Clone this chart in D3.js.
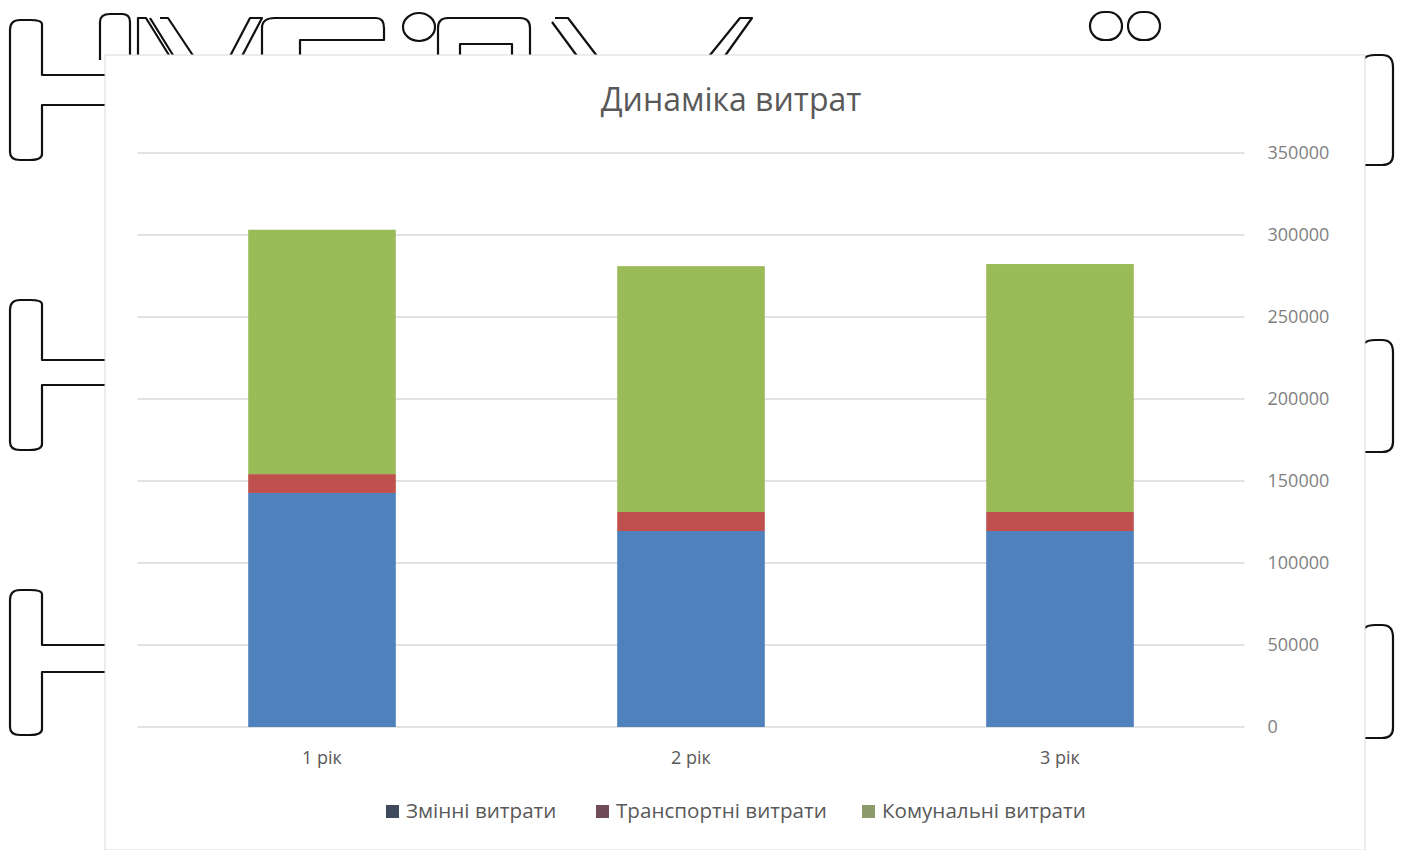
<!DOCTYPE html>
<html>
<head>
<meta charset="utf-8">
<script src="https://cdn.jsdelivr.net/npm/d3@7"></script>
<style>
  body { margin: 0; background: #fff; }
  svg { display: block; }
</style>
</head>
<body>
<div id="chart"></div>
<script>
// data
var years = ["1 рік", "2 рік", "3 рік"];
var seriesNames = ["Змінні витрати", "Транспортні витрати", "Комунальні витрати"];
var zminni = [142700, 119500, 119500];
var transport = [11500, 11600, 11600];
var komunalni = [149000, 149900, 151200];
var yTicks = [0, 50000, 100000, 150000, 200000, 250000, 300000, 350000];

var W = 1405, H = 850;

var svg = d3.select("#chart").append("svg")
    .attr("width", W)
    .attr("height", H);

// background outline shapes (scan artefacts around the chart)
var deco = svg.append("g")
    .attr("fill", "none")
    .attr("stroke", "#111")
    .attr("stroke-width", 2.2)
    .attr("stroke-linejoin", "round");

[[20, 75, 105, 160], [300, 360, 385, 450], [590, 645, 672, 735]].forEach(function(h) {
    deco.append("path")
        .attr("d", "M120," + h[1] + " L42," + h[1] + " L42," + (h[0] + 4) +
            " Q42," + h[0] + " 30," + h[0] + " L20," + h[0] + " Q10," + h[0] + " 10," + (h[0] + 10) +
            " L10," + (h[3] - 8) + " Q10," + h[3] + " 20," + h[3] + " L30," + h[3] +
            " Q42," + h[3] + " 42," + (h[3] - 6) + " L42," + h[2] + " L120," + h[2]);
});
[[55, 165], [340, 452], [625, 738]].forEach(function(b) {
    deco.append("path")
        .attr("d", "M1362," + (b[0] + 10) + " Q1362," + b[0] + " 1375," + b[0] + " L1382," + b[0] +
            " Q1393," + b[0] + " 1393," + (b[0] + 12) + " L1393," + (b[1] - 10) +
            " Q1393," + b[1] + " 1382," + b[1] + " L1362," + b[1]);
});
deco.append("path").attr("d", "M100,60 L100,22 Q100,14 110,14 L122,14 Q130,14 130,22 L130,60");
deco.append("path").attr("d", "M138,60 L138,18 L146,18 L172,60 M160,18 L168,18 L196,60 M150,18 L176,60");
deco.append("path").attr("d", "M228,60 L250,18 L262,18 L240,60");
deco.append("path").attr("d", "M262,60 L262,28 Q262,18 275,18 L376,18 Q384,18 384,28 L384,40 L300,40 L300,60");
deco.append("ellipse").attr("cx", 419).attr("cy", 27).attr("rx", 16).attr("ry", 14);
deco.append("path").attr("d", "M438,60 L438,28 Q438,18 448,18 L520,18 Q530,18 530,28 L530,60 M460,60 L460,44 L512,44 L512,60");
deco.append("path").attr("d", "M555,18 L568,18 L600,60 M552,22 L580,60");
deco.append("path").attr("d", "M706,60 L740,18 L752,18 L722,60");
deco.append("rect").attr("x", 1090).attr("y", 12).attr("width", 32).attr("height", 28).attr("rx", 14);
deco.append("rect").attr("x", 1128).attr("y", 12).attr("width", 32).attr("height", 28).attr("rx", 14);

// chart card
svg.append("rect")
    .attr("x", 105).attr("y", 55)
    .attr("width", 1260).attr("height", 795)
    .attr("fill", "#fff")
    .attr("stroke", "#d9d9d9");

var plot = {left: 137.5, right: 1244.5, top: 153, bottom: 727};

var colors = d3.scaleOrdinal()
    .domain(seriesNames)
    .range(["#4f81bd", "#c0504d", "#9bbb59"]);
var legendColors = d3.scaleOrdinal()
    .domain(seriesNames)
    .range(["#3f4b5c", "#704c58", "#8d9b6c"]);

var x = d3.scaleBand()
    .domain(years)
    .range([plot.left, plot.right]);

var y = d3.scaleLinear()
    .domain([0, 350000])
    .range([plot.bottom, plot.top]);

// title
svg.append("text")
    .attr("x", 731)
    .attr("y", 111)
    .attr("text-anchor", "middle")
    .attr("font-family", "Open Sans, sans-serif")
    .attr("font-size", 32)
    .attr("fill", "#595959")
    .text("Динаміка витрат");

// gridlines
svg.append("g")
    .selectAll("line")
    .data(yTicks)
    .enter().append("line")
    .attr("x1", plot.left)
    .attr("x2", plot.right)
    .attr("y1", function(d) { return y(d); })
    .attr("y2", function(d) { return y(d); })
    .attr("stroke", "#d9d9d9")
    .attr("stroke-width", 1.3);

// right axis labels
var yAxis = svg.append("g")
    .attr("transform", "translate(" + (plot.right + 1) + ",0)")
    .call(d3.axisRight(y).tickValues(yTicks).tickSize(0).tickPadding(22).tickFormat(d3.format("d")));
yAxis.select(".domain").remove();
yAxis.selectAll("text")
    .attr("font-family", "Open Sans, sans-serif")
    .attr("font-size", 18)
    .attr("fill", "#7f7f7f");

// stacked bars
var table = years.map(function(yr, i) {
    var row = {year: yr};
    row[seriesNames[0]] = zminni[i];
    row[seriesNames[1]] = transport[i];
    row[seriesNames[2]] = komunalni[i];
    return row;
});
var stacked = d3.stack().keys(seriesNames)(table);
var barW = x.bandwidth() * 0.4;

svg.append("g")
    .selectAll("g")
    .data(stacked)
    .enter().append("g")
    .attr("fill", function(d) { return colors(d.key); })
    .selectAll("rect")
    .data(function(d) { return d; })
    .enter().append("rect")
    .attr("x", function(d) { return x(d.data.year) + (x.bandwidth() - barW) / 2; })
    .attr("width", barW)
    .attr("y", function(d) { return y(d[1]); })
    .attr("height", function(d) { return y(d[0]) - y(d[1]); });

// x axis labels
var xAxis = svg.append("g")
    .attr("transform", "translate(0," + plot.bottom + ")")
    .call(d3.axisBottom(x).tickSize(0).tickPadding(24));
xAxis.select(".domain").remove();
xAxis.selectAll("text")
    .attr("font-family", "Open Sans, sans-serif")
    .attr("font-size", 18)
    .attr("fill", "#595959");

// legend
var legendX = [386, 596, 862];
var legend = svg.append("g")
    .selectAll("g")
    .data(seriesNames)
    .enter().append("g")
    .attr("transform", function(d, i) { return "translate(" + legendX[i] + ",811)"; });

legend.append("rect")
    .attr("x", 0)
    .attr("y", -6)
    .attr("width", 13)
    .attr("height", 13)
    .attr("fill", function(d) { return legendColors(d); });

legend.append("text")
    .attr("x", 20)
    .attr("dy", "0.35em")
    .attr("font-family", "Open Sans, sans-serif")
    .attr("font-size", 20.6)
    .attr("fill", "#595959")
    .text(function(d) { return d; });
</script>
</body>
</html>
